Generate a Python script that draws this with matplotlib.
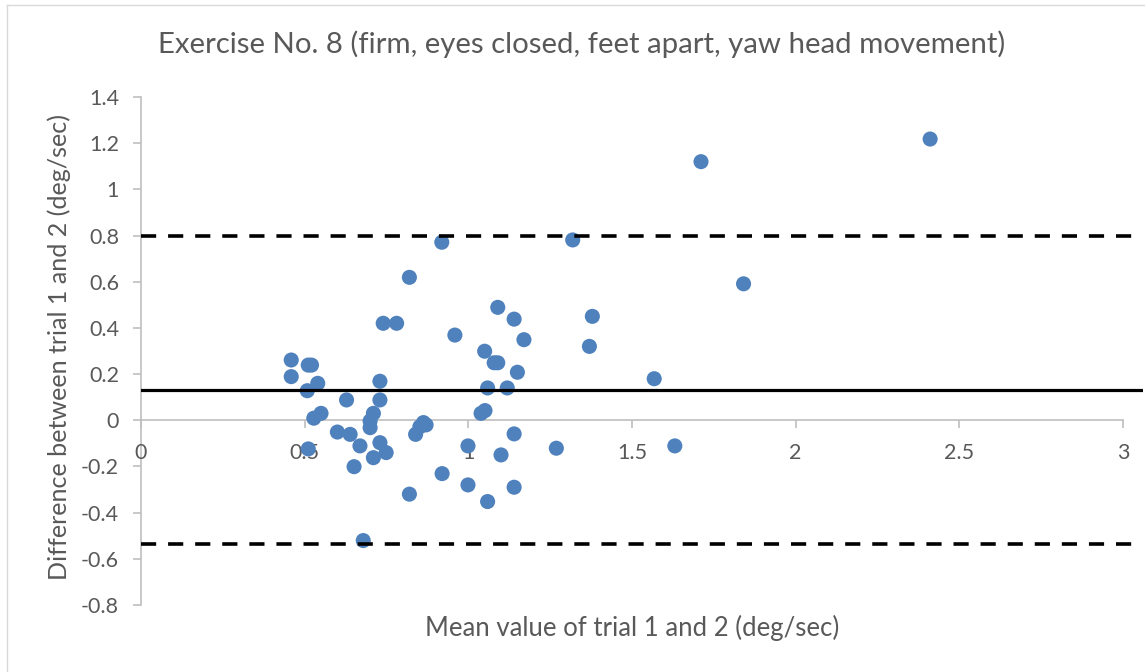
import matplotlib
matplotlib.use("Agg")
import matplotlib.pyplot as plt
from matplotlib.lines import Line2D

# ---- data ----
mean_vals = [0.919, 0.820, 0.740, 0.781, 0.959, 0.459, 0.511, 0.521, 0.459, 0.540,
             0.508, 0.730, 0.628, 0.730, 0.550, 0.528, 0.710, 0.700, 0.700, 0.600,
             0.639, 0.863, 0.852, 0.871, 0.839, 0.669, 0.511, 0.730, 0.749, 0.710,
             0.651, 0.920, 0.820, 0.679, 1.319, 1.090, 1.140, 1.379, 1.170, 1.370,
             1.050, 1.079, 1.090, 1.150, 1.568, 1.059, 1.119, 1.051, 1.039, 1.140,
             0.999, 1.100, 1.269, 1.631, 0.999, 1.140, 1.059, 1.711, 2.411, 1.841]
diff_vals = [0.771, 0.619, 0.420, 0.420, 0.369, 0.261, 0.239, 0.239, 0.189, 0.160,
             0.128, 0.169, 0.088, 0.088, 0.030, 0.009, 0.030, -0.003, -0.032, -0.051,
             -0.061, -0.010, -0.028, -0.020, -0.061, -0.111, -0.124, -0.097, -0.140, -0.162,
             -0.201, -0.231, -0.320, -0.521, 0.781, 0.489, 0.438, 0.450, 0.349, 0.320,
             0.299, 0.249, 0.249, 0.208, 0.180, 0.140, 0.140, 0.042, 0.030, -0.059,
             -0.111, -0.150, -0.121, -0.111, -0.280, -0.290, -0.352, 1.120, 1.218, 0.591]
bias = 0.131
upper_loa = 0.797
lower_loa = -0.535

x_ticks = [0, 0.5, 1, 1.5, 2, 2.5, 3]
x_tick_labels = ["0", "0.5", "1", "1.5", "2", "2.5", "3"]
y_ticks = [-0.8, -0.6, -0.4, -0.2, 0, 0.2, 0.4, 0.6, 0.8, 1, 1.2, 1.4]
y_tick_labels = ["-0.8", "-0.6", "-0.4", "-0.2", "0", "0.2", "0.4", "0.6", "0.8", "1", "1.2", "1.4"]

title = "Exercise No. 8 (firm, eyes closed, feet apart, yaw head movement)"
xlabel = "Mean value of trial 1 and 2 (deg/sec)"
ylabel = "Difference between trial 1 and 2 (deg/sec)"

plt.rcParams['font.family'] = ['Lato', 'DejaVu Sans']
TEXT = '#595959'
GRID = '#BFBFBF'
BLUE = '#4F81BD'

W, H = 1145, 672
fig = plt.figure(figsize=(W / 100, H / 100), dpi=100)

# axes: x=0 at px 141, right end at px 1143; y from 605 (bottom) to 97 (top)
left_px, right_px, top_px, bot_px = 141, 1143, 97, 605
ax = fig.add_axes([left_px / W, 1 - bot_px / H, (right_px - left_px) / W, (bot_px - top_px) / H])
x_right = (right_px - left_px) / 327.3
ax.set_xlim(0, x_right)
ax.set_ylim(-0.8, 1.4)

ax.scatter(mean_vals, diff_vals, s=118, color=BLUE, edgecolors='none', zorder=3)
ax.axhline(bias, color='black', lw=2.3, zorder=4)
for v in (upper_loa, lower_loa):
    ax.axhline(v, color='black', lw=2.6, linestyle=(0, (4.2, 3.3)), zorder=4)

for s in ('top', 'right'):
    ax.spines[s].set_visible(False)
ax.spines['bottom'].set_position(('data', 0))
ax.spines['bottom'].set_bounds(0, 3)
ax.spines['left'].set_bounds(-0.8, 1.4)
for s in ('bottom', 'left'):
    ax.spines[s].set_color(GRID)
    ax.spines[s].set_linewidth(1.2)
    ax.spines[s].set_zorder(1)

ax.set_xticks(x_ticks)
ax.set_xticklabels(x_tick_labels)
ax.set_yticks(y_ticks)
ax.set_yticklabels(y_tick_labels)
ax.tick_params(axis='x', direction='out', length=5.8, width=1.2, color=GRID,
               labelcolor=TEXT, labelsize=15.5, pad=10.5)
ax.tick_params(axis='y', direction='out', length=5.8, width=1.2, color=GRID,
               labelcolor=TEXT, labelsize=15.5, pad=10)
ax.patch.set_alpha(0)

fig.text(582 / W, 1 - 44 / H, title, ha='center', va='center', color=TEXT, fontsize=21.2)
fig.text((141 + 1.5 * 327.3) / W, 1 - 628 / H, xlabel, ha='center', va='center',
         color=TEXT, fontsize=18.5)
fig.text(59.5 / W, 1 - 347 / H, ylabel, ha='center', va='center', rotation=90,
         color=TEXT, fontsize=18.1)

# chart border (only left and top visible in the crop)
fig.add_artist(Line2D([6.5 / W, 6.5 / W], [0, 1 - 5 / H], transform=fig.transFigure,
                      color='#D9D9D9', lw=1.0))
fig.add_artist(Line2D([6.5 / W, 1], [1 - 5 / H, 1 - 5 / H], transform=fig.transFigure,
                      color='#D9D9D9', lw=1.0))

fig.savefig('out.png', dpi=100)
